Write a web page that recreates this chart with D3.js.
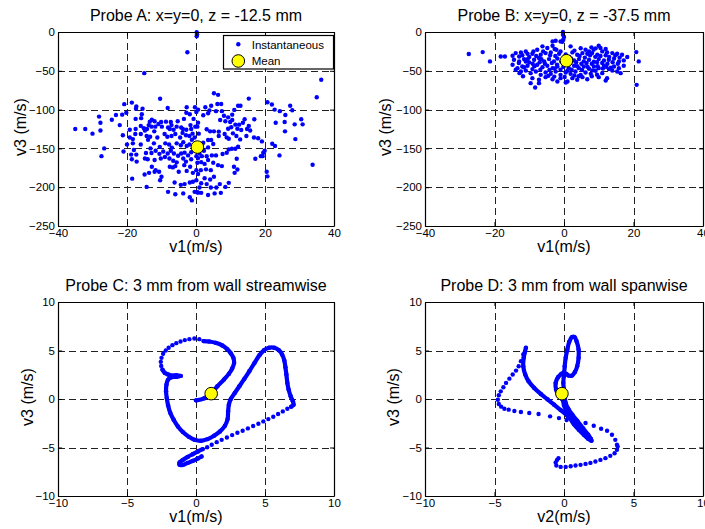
<!DOCTYPE html>
<html><head><meta charset="utf-8">
<script src="https://cdn.jsdelivr.net/npm/d3@7"></script>
<style>
body{margin:0;background:#fff}
svg{display:block}
text{font-family:Arial,"Liberation Sans",Helvetica,sans-serif;fill:#000}
</style>
</head><body>
<svg id="chart" width="705" height="529"></svg>
<script>
// ---------------- DATA ----------------
const titles = ["Probe A: x=y=0, z = -12.5 mm", "Probe B: x=y=0, z = -37.5 mm",
                "Probe C: 3 mm from wall streamwise", "Probe D: 3 mm from wall spanwise"];
const xLabels = ["v1(m/s)", "v1(m/s)", "v1(m/s)", "v2(m/s)"];
const yLabel = "v3 (m/s)";
const legendLabels = ["Instantaneous", "Mean"];
const xTicksAB = [-40, -20, 0, 20, 40];
const yTicksAB = [0, -50, -100, -150, -200, -250];
const ticksCD = [-10, -5, 0, 5, 10];

const probeA = [
[0.2,-0.4],[0.2,-5.6],[0.3,-3],[-2.5,-26],[-15,-53],[-10.4,-86],[-20.8,-93],[-18.6,-91],[-17.3,-96],[-17.4,-99],[-15.5,-99],[-8.2,-98],[-2.7,-97],[-0.3,-97],[0.1,-103],[0.6,-100],
[-21.4,-106.5],[-20.2,-104],[-23.2,-107],[-28.1,-109],[-15.7,-106],[-15.9,-111],[-17.5,-112],[-2.8,-104],[-1.8,-106],[-0.7,-112],[-3.5,-112],[-5.3,-115],[-7.1,-120],[-12.8,-113],[-12,-115],[-13.4,-115.5],[-10.1,-116],[-8.7,-115.5],[-7.3,-116],
[-27.7,-117],[-24.4,-113],[-22.1,-120],[-19.2,-126],[-17.5,-125],[-16,-121],[-15.1,-124],[-13.7,-120],[-14.2,-125],[-12.9,-122],[-11.8,-122],[-10.9,-118.5],[-9.9,-122],[-8.1,-123],[-7.6,-125],[-6.5,-126],[-5.6,-122],[-4.3,-123],[-3.8,-125],[-2.8,-126],[-1.6,-120],[-1.4,-125],[-0.2,-122],[0.4,-122],[-35,-125],[-32.1,-125],[-30,-131],[-27.7,-127],
[-21.2,-133],[-19.2,-136],[-18.3,-138],[-17.6,-131.5],[-16,-131.5],[-14.8,-127],[-14.3,-134],[-13.3,-135],[-12.1,-128],[-11.2,-136],[-9.1,-131.5],[-8.3,-135],[-7.1,-134],[-6,-131.5],[-4.6,-136],[-3.9,-130],[-2.9,-133],[-1.9,-134],[-1,-131],[-0.4,-136],[0.8,-131],
[-20,-145],[-18.3,-143.5],[-16,-145],[-13.9,-139],[-12.2,-143.5],[-10.5,-148],[-8.9,-143.5],[-7.8,-145],[-7,-149],[-5.6,-143.5],[-4.4,-146],[-3.7,-142],[-2.7,-147],[-1.9,-145],[-1.2,-139],[-0.6,-149],[-26.6,-150],[-21,-154],
[-27.4,-160],[-18,-152],[-18.8,-158],[-17.3,-158],[-14.5,-156],[-13.2,-150],[-12.9,-156],[-11.7,-153],[-10.6,-157],[-9.5,-154],[-8.2,-156.5],[-7.3,-153],[-6.4,-156.5],[-5.2,-159.5],[-4.3,-156.5],[-3.3,-155.5],[-2.3,-159],[-1.4,-155],[-18.6,-164],[-17.2,-167],[-14.8,-163],[-14,-164],[-12,-165],[-10.2,-163],[-9,-161],[-7.7,-163],[-6.6,-166],[-5.6,-168],[-3.7,-163],[-2.9,-167],[-1.4,-164],[0.1,-160],
[-14.9,-183.6],[-13.6,-181.5],[-12.8,-173.7],[-11.7,-178],[-10.7,-180],[-10,-186.6],[-7.6,-173.7],[-6.7,-174.5],[-6,-172.8],[-5,-180],[-3.4,-171.6],[-2.7,-179],[-1.7,-173.7],[-0.9,-181.5],[0.1,-178],[-12,-180],[-18.5,-189],
[-10.4,-191],[-14.3,-199.6],[-6.2,-194],[-4.4,-197],[-3.3,-196],[-1.8,-194],[-0.9,-193],[0.1,-191],[-8.1,-206],[-6,-209],[-3.7,-208],[-1.8,-213],[-1.2,-217],[-0.4,-206],[0.6,-207],
[36.3,-61.6],[35,-84],[15.3,-85.8],[20.7,-90.5],[22,-93.5],[27.3,-95],[27.9,-100.9],[22.8,-100],[24.3,-102],[25.9,-107],[30.5,-112.5],[30.9,-119],[23.1,-117],[25.7,-116],[28.6,-119],[25.8,-128],[28.8,-138],[22.1,-144],[22.9,-147],[24.2,-159],[33.8,-171],[20.5,-180],[20.7,-186],[19.9,-153],[19.5,-155.6],[19.3,-160],[18.8,-160],[17.2,-163.4],[18,-137],[19.1,-141],[16.8,-136],[16.9,-112.5],[15.3,-121],[14.8,-125],[15.7,-127],[14.1,-112.5],[13.6,-117],[12.9,-95],[12.2,-95],[11.1,-100.4],[10.5,-106.5],[10.5,-113.4],[11.4,-119.4],[12.5,-119.4],[12,-124.6],[13.1,-126.3],[10.2,-122.8],[9.3,-124.6],[8.3,-131.5],[9.5,-137.5],[10.7,-130.6],[11.7,-134],[12.8,-138.4],[14.6,-134],[12.2,-147.8],[11.4,-150.4],[10.4,-150.4],[9.5,-151.3],[8.9,-155.6],[7.7,-157.3],[11.8,-163.4],[11,-173.7],[12,-177.2],[11.2,-181.5],[9.5,-194.4],[8.5,-199.6],[6.9,-196],[5.9,-200.4],[7.2,-207.3],[5.4,-208],[3.5,-210],[1.5,-207.3],[0.4,-206.5],[5.2,-79],[6.4,-81],[6.2,-92.7],[7.3,-92.7],[4.4,-95],[2.7,-97],[3.9,-101],[5.8,-102],[7.5,-102],[3.5,-104.7],[7,-113.4],[8.1,-108],[9.3,-110],[9.9,-116],[8.5,-115],[2.1,-107.3],[0.6,-116.8],[3.1,-125.4],[4.1,-128],[5.2,-128],[6.6,-128.4],[8.9,-135.8],[6.6,-134],[4.4,-139.2],[3.5,-139.2],[2.1,-142.7],[1.3,-146],[5,-144.4],[3.5,-148.7],[2.3,-153],[1,-156.5],[1.7,-160],[3.1,-160],[4.6,-159],[5.8,-159],[0.6,-162.5],[3.5,-165],[5,-168.5],[6.4,-171.6],[2.5,-170],[1.5,-167.7],[7.5,-172.8],[4.3,-178],[2.9,-177],[1.4,-178],[0.6,-183],[5.2,-186.6],[2.5,-188.4],[4.1,-190],[1.5,-195],[3.1,-196],[4.3,-200.4],[1,-200.4],[0.4,-168.5]
];
const meanA = [0.4, -148.3];

const probeB = [
[-0.3,0],[-0.3,-3.4],[0,-6.5],[-0.2,-9.9],[-0.5,-12.5],[-1.0,-12.1],[-2.4,-11.2],[-3.3,-12.1],
[-27.4,-28.4],[-23.4,-25.9],[-21.3,-37.9],[-18.2,-31.5],[-17,-31.5],[20.8,-25.9],[21.5,-37.9],[20.9,-68.1],[-8.3,-71.6],
[-6.2,-18.5],[-4.8,-20.7],[-3.3,-17.7],[-2.2,-22.8],[1.9,-18.5],[6.2,-22.8],[7.9,-19.8],[9.1,-21.1],[10.5,-20.7],[12,-22],[10,-17.7],[7.2,-25],
[-13.9,-27.2],[-12.4,-26.3],[-11,-25],[-9.1,-28],[-7.7,-22.8],[-6.7,-29.3],[-5.3,-27.2],[-3.8,-26.3],[-1.4,-28],[2.4,-26.3],[3.8,-29.3],[5.3,-27.2],[6.7,-28],[8.1,-27.2],[9.6,-29.3],[11,-25],[12.4,-26.3],[13.9,-27.2],[15.3,-28],[16.7,-29.3],[18.2,-32.3],[-14.8,-30.6],[-12.9,-31.5],[-10,-32.3],
[-14.4,-35.8],[-12.9,-37.9],[-11.5,-34.9],[-10,-39.2],[-8.6,-35.8],[-7.2,-33.6],[-5.7,-37.9],[-4.3,-34.9],[-2.9,-37.9],[-1.9,-34.1],[2.9,-36.6],[4.3,-34.9],[5.7,-37.9],[7.2,-35.8],[8.6,-38.4],[10,-34.9],[11.5,-36.6],[12.9,-35.8],[14.4,-34.1],[15.8,-37.9],[17.2,-36.6],
[-14.8,-42.2],[-13.4,-46.6],[-12,-44.4],[-10.5,-43.5],[-9.1,-47.8],[-7.7,-42.2],[-6.2,-45.3],[-4.8,-43.5],[-3.3,-46.6],[-1.9,-44.4],[-1,-48.7],[1.4,-46.6],[2.9,-43.5],[4.3,-46.6],[5.7,-44.4],[7.2,-47.4],[8.6,-44.4],[10,-46.6],[11.5,-43.5],[12.9,-47.8],[14.4,-44.4],[15.8,-46.6],[17.2,-43.5],
[-13.9,-48.7],[-12.4,-50.9],[-11,-49.6],[-9.6,-53],[-8.1,-50.9],[-6.7,-55.2],[-5.3,-52.2],[-3.8,-53.9],[-2.4,-50.9],[-1,-55.2],[0.5,-52.2],[1.9,-53.9],[3.3,-50.9],[4.8,-55.2],[6.2,-52.2],[7.7,-53.9],[9.1,-50],[11,-53],[13.9,-49.6],[15.3,-50.9],[16.3,-53],
[-9.1,-59.5],[-7.2,-61.6],[-5.3,-58.2],[-3.3,-60.8],[-1.9,-63.8],[-1,-59.5],[1,-63.8],[2.4,-59.5],[3.8,-61.6],[5.3,-58.2],[6.7,-60.8],[10,-58.2],[12,-62.5],[12.4,-59.5],
[-9.6,-65.9],[-7.2,-65.9],[0.5,-65.1],
[-12,-30],[-10.5,-28],[-8,-31],[-6,-25],[-4,-30],[-2.5,-31],[-1,-25],[0.5,-29],[1.5,-32],[3,-24],[4.5,-31],[6,-33],[7.5,-30],[9,-32],[10.5,-31],[12,-30],[13,-32],[14.8,-30],[16,-33],[-13,-40],[-11,-38],[-9,-41],[-7,-39],[-5.5,-41],[-3.5,-40],[-2,-42],[-0.8,-38],[1.8,-40],[3.5,-39],[5,-41],[6.5,-40],[8,-41],[9.5,-39],[11,-40],[12.5,-41],[14,-39],[15.5,-41],[-12.8,-53],[-11.5,-45.5],[-8.5,-44],[-6.8,-48.5],[-4.2,-49],[-2.7,-47],[-0.2,-45],[1,-50],[2.2,-48.5],[3.8,-44],[5.2,-49],[6.8,-45],[8.2,-49.5],[9.7,-44],[11.2,-47],[12.2,-45],[13.5,-46],[-11.8,-57],[-4.5,-56.5],[-2.8,-57.5],[0.2,-58],[3,-56],[4.2,-57],[8,-57],[9.5,-55],[-10.5,-35],[-2.7,-22],[4.8,-21],[8.5,-23],[-8.8,-25],[-6.5,-35],[2,-34],[0.9,-36.5]
];
const meanB = [0.7, -37];

// Probe C: continuous (densely sampled) stretches and sparse samples
const probeCDense = [
  [[0,-0.14],[0.6,0.07],[1.07,0.55],[1.55,1.31],[2.02,2.0],[2.38,2.59],[2.62,3.14],[2.76,3.72],[2.71,4.24],[2.52,4.72],[2.26,5.14],[1.9,5.52],[1.43,5.79],[0.95,5.93],[0.55,5.97]],
  [[-2.43,3.03],[-2.26,2.69],[-2.02,2.52],[-1.71,2.41],[-1.43,2.45],[-1.1,2.38],[-1.43,2.28],[-1.79,2.24],[-2.02,2.0],[-2.14,1.48],[-2.17,0.79],[-2.12,0.10],[-2.02,-0.66],[-1.86,-1.45],[-1.62,-2.14],[-1.31,-2.83],[-0.95,-3.41],[-0.52,-3.9],[-0.1,-4.21],[0.36,-4.31],[0.83,-4.14],[1.31,-3.79],[1.74,-3.34],[2.1,-2.76],[2.29,-2.07],[2.33,-1.28],[2.38,-0.59],[2.52,0],[2.81,0.62],[3.14,1.31],[3.5,2.07],[3.86,2.86],[4.24,3.72],[4.6,4.52],[4.93,5.03],[5.29,5.28],[5.67,5.28],[6.0,5.03],[6.24,4.59],[6.4,3.97],[6.48,3.28],[6.55,2.52],[6.62,1.66],[6.71,0.97],[6.86,0.28],[7.02,-0.24],[7.07,-0.59],[6.9,-0.79]],
  [[0.48,-5.17],[0.14,-5.41],[-0.24,-5.69],[-0.6,-5.97],[-0.95,-6.28],[-1.19,-6.55],[-1.19,-6.79],[-0.95,-6.79],[-0.6,-6.59],[-0.24,-6.38],[0.12,-6.14],[0.4,-5.93]]
];
const probeCSparse = [
  [0.24,6.17],[-0.12,6.24],[-0.48,6.17],[-0.81,6.07],[-1.12,5.93],[-1.43,5.76],[-1.71,5.55],[-1.98,5.28],[-2.19,5.0],[-2.38,4.66],[-2.5,4.24],[-2.55,3.83],[-2.52,3.41],
  [6.62,-1.0],[6.29,-1.28],[5.95,-1.55],[5.6,-1.83],[5.24,-2.07],[4.88,-2.31],[4.52,-2.55],[4.14,-2.79],[3.76,-3.03],[3.38,-3.28],[3.0,-3.48],[2.62,-3.72],[2.24,-3.97],[1.86,-4.21],[1.5,-4.45],[1.14,-4.72],[0.81,-4.97]
];
const meanC = [1.1, 0.55];

const probeDDense = [
  [[-2.74,5.28],[-2.83,4.76],[-2.9,4.24],[-2.93,3.38],[-2.79,2.52],[-2.55,1.83],[-2.14,1.14],[-1.67,0.52],[-1.19,-0.03],[-0.71,-0.59],[-0.24,-1.14],[0.24,-1.72],[0.71,-2.38],[1.19,-3.07],[1.67,-3.76],[1.93,-4.17],[1.98,-4.31],[1.74,-4.1],[1.43,-3.69],[1.07,-3.17],[0.71,-2.59],[0.43,-1.97],[0.19,-1.28],[0,-0.66],[-0.1,-0.07],[-0.36,0.28],[-0.57,0.97],[-0.6,1.66],[-0.43,2.24],[-0.19,2.59],[0,2.79],[0.05,3.38],[0.12,4.24],[0.24,5.1],[0.38,5.9],[0.57,6.38],[0.76,6.38],[0.9,5.97],[1.05,5.1],[1.05,4.24],[0.95,3.38],[0.79,2.79],[0.57,2.41],[0.33,2.41],[0.14,2.62],[0,2.34],[-0.05,1.66],[0,0.97],[0.05,0.28],[0.12,-0.41],[0.31,-1.0],[0.6,-1.62],[0.95,-2.24],[1.36,-3.0],[1.74,-3.69],[1.93,-4.1]]
];
const probeDSparse = [
  [-2.93,4.59],[-3.1,3.9],[-3.26,3.38],[-3.45,2.93],[-3.69,2.52],[-3.93,2.1],[-4.17,1.66],[-4.36,1.21],[-4.55,0.79],[-4.69,0.38],[-4.76,-0.07],[-4.69,-0.52],[-4.52,-0.79],[-4.29,-1.0],[-3.98,-1.1],[-3.57,-1.24],[-3.1,-1.34],[-2.5,-1.45],[-1.83,-1.55],[-1.0,-1.79],[-0.36,-1.97],
  [0.19,-2.17],[0.6,-2.24],[0.95,-2.31],[1.55,-2.48],[2.14,-2.76],[2.67,-3.07],[3.1,-3.28],[3.45,-3.69],[3.69,-4.21],[3.81,-4.72],
  [3.86,-4.9],[3.81,-5.24],[3.64,-5.59],[3.33,-5.86],[2.98,-6.1],[2.62,-6.28],[2.26,-6.45],[1.9,-6.59],[1.55,-6.69],[1.19,-6.79],[0.83,-6.86],[0.48,-6.93],[0.12,-7.0],[-0.24,-7.0],[-0.55,-6.86],[-0.6,-6.55],[-0.5,-6.28],[-0.4,-6.1]
];
const meanD = [-0.15, 0.55];

// ---------------- DRAWING ----------------
const BLUE = "#0000ff", YELLOW = "#ffff00";
const svg = d3.select("#chart");
svg.append("rect").attr("width", 705).attr("height", 529).attr("fill", "#fff");

function panel(o) {
  const x = d3.scaleLinear().domain(o.xDomain).range([o.left, o.right]);
  const y = d3.scaleLinear().domain(o.yDomain).range([o.bottom, o.top]);
  const g = svg.append("g");
  g.append("rect").attr("x", o.left).attr("y", o.top)
    .attr("width", o.right - o.left).attr("height", o.bottom - o.top).attr("fill", "#fff");

  // grid
  const grid = g.append("g").attr("stroke", "#222").attr("stroke-width", 1)
    .attr("stroke-dasharray", "7,4").attr("shape-rendering", "crispEdges");
  grid.selectAll("line.v").data(o.xTicks.slice(1, -1)).join("line")
    .attr("x1", d => Math.round(x(d)) + 0.5).attr("x2", d => Math.round(x(d)) + 0.5)
    .attr("y1", o.top).attr("y2", o.bottom);
  grid.selectAll("line.h").data(o.yTicks.filter(t => t !== o.yDomain[0] && t !== o.yDomain[1])).join("line")
    .attr("y1", d => Math.round(y(d)) + 0.5).attr("y2", d => Math.round(y(d)) + 0.5)
    .attr("x1", o.left).attr("x2", o.right);

  // dense stretches
  const line = d3.line().x(d => x(d[0])).y(d => y(d[1])).curve(d3.curveCatmullRom);
  (o.dense || []).forEach(seg => {
    g.append("path").attr("d", line(seg)).attr("fill", "none").attr("stroke", BLUE)
      .attr("stroke-width", 4.2).attr("stroke-linecap", "round").attr("stroke-linejoin", "round");
  });
  // dots
  const pts = (o.points || []).concat(...(o.dense || []));
  g.append("g").selectAll("circle").data(pts).join("circle")
    .attr("cx", d => x(d[0])).attr("cy", d => y(d[1])).attr("r", 2.2).attr("fill", BLUE);
  // mean
  g.append("circle").attr("cx", x(o.mean[0])).attr("cy", y(o.mean[1])).attr("r", 6.3)
    .attr("fill", YELLOW).attr("stroke", "#000").attr("stroke-width", 1);

  // axes
  const fs = "11.5px";
  const ax = [
    [d3.axisBottom(x).tickValues(o.xTicks).tickSizeInner(-4).tickSizeOuter(0).tickPadding(3.3), `translate(0,${o.bottom})`],
    [d3.axisTop(x).tickValues(o.xTicks).tickSizeInner(-4).tickSizeOuter(0).tickFormat(""), `translate(0,${o.top})`],
    [d3.axisLeft(y).tickValues(o.yTicks).tickSizeInner(-4).tickSizeOuter(0).tickPadding(3), `translate(${o.left},0)`],
    [d3.axisRight(y).tickValues(o.yTicks).tickSizeInner(-4).tickSizeOuter(0).tickFormat(""), `translate(${o.right},0)`]
  ];
  ax.forEach(([a, t]) => {
    const ga = g.append("g").attr("transform", t).call(a);
    ga.selectAll("path.domain").attr("stroke", "#000").attr("stroke-width", 1.2);
    ga.selectAll(".tick line").attr("stroke", "#000");
    ga.selectAll("text").style("font-size", fs).style("font-family", "Arial, 'Liberation Sans', sans-serif").attr("fill", "#000");
  });

  // title and labels
  const cx = (o.left + o.right) / 2;
  g.append("text").attr("x", cx).attr("y", o.top - 11).attr("text-anchor", "middle")
    .style("font-size", "16px").text(o.title);
  g.append("text").attr("x", cx).attr("y", o.bottom + 26).attr("text-anchor", "middle")
    .style("font-size", "16px").text(o.xLabel);
  g.append("text").attr("transform", `translate(${o.yLabelX},${(o.top + o.bottom) / 2 - 2}) rotate(-90)`)
    .attr("text-anchor", "middle").style("font-size", "16px").text(yLabel);
  return {x, y, g};
}

const pA = panel({left: 58, right: 334, top: 32, bottom: 226, xDomain: [-40, 40], yDomain: [-250, 0],
  xTicks: xTicksAB, yTicks: yTicksAB, points: probeA, mean: meanA, title: titles[0], xLabel: xLabels[0], yLabelX: 25.6});
panel({left: 425, right: 703, top: 32, bottom: 226, xDomain: [-40, 40], yDomain: [-250, 0],
  xTicks: xTicksAB, yTicks: yTicksAB, points: probeB, mean: meanB, title: titles[1], xLabel: xLabels[1], yLabelX: 391.3});
panel({left: 58, right: 334, top: 302, bottom: 496, xDomain: [-10, 10], yDomain: [-10, 10],
  xTicks: ticksCD, yTicks: ticksCD, points: probeCSparse, dense: probeCDense, mean: meanC, title: titles[2], xLabel: xLabels[2], yLabelX: 32.6});
panel({left: 425, right: 703, top: 302, bottom: 496, xDomain: [-10, 10], yDomain: [-10, 10],
  xTicks: ticksCD, yTicks: ticksCD, points: probeDSparse, dense: probeDDense, mean: meanD, title: titles[3], xLabel: xLabels[3], yLabelX: 398.6});

// legend in panel A
const lg = pA.g.append("g").attr("transform", "translate(223.5,35.5)");
lg.append("rect").attr("width", 110).attr("height", 33.5).attr("fill", "#fff").attr("stroke", "#000").attr("stroke-width", 1.2);
lg.append("circle").attr("cx", 14.8).attr("cy", 8.8).attr("r", 2.2).attr("fill", BLUE);
lg.append("circle").attr("cx", 14.8).attr("cy", 25.5).attr("r", 6.3).attr("fill", YELLOW).attr("stroke", "#000");
lg.selectAll("text").data(legendLabels).join("text")
  .attr("x", 28.2).attr("y", (d, i) => 13 + i * 16.7).style("font-size", "11.5px").text(d => d);
</script>
</body></html>
